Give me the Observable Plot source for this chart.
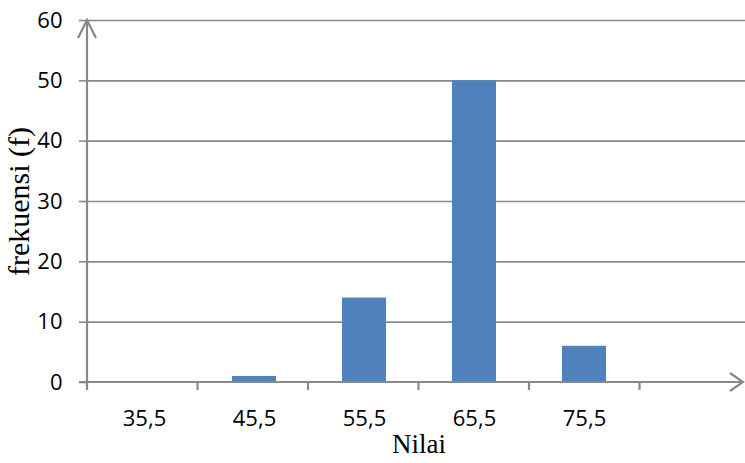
<!DOCTYPE html>
<html>
<head>
<meta charset="utf-8">
<script src="https://cdn.jsdelivr.net/npm/d3@7"></script>
<script src="https://cdn.jsdelivr.net/npm/@observablehq/plot@0.6"></script>
<style>
  html, body { margin: 0; padding: 0; background: #fff; }
</style>
</head>
<body>
<div id="chart"></div>
<script>
// Data
const categories = ["35,5", "45,5", "55,5", "65,5", "75,5", ""];
const frequencies = [0, 1, 14, 50, 6, null];
const yTicks = [0, 10, 20, 30, 40, 50, 60];
const xTitle = "Nilai";
const yTitle = "frekuensi (f)";

const data = categories.map((c, i) => ({category: c, f: frequencies[i]})).filter(d => d.f != null);

const gray = "#898989";
const barColor = "#4F81BD";

// Axis lines with arrowheads and category-boundary ticks, derived from the plot dimensions and x scale
function axesDecor(index, scales, values, dims) {
  const {width, height, marginTop, marginBottom, marginLeft, marginRight} = dims;
  const x0 = marginLeft, y0 = height - marginBottom;
  const xr = (scales.x && scales.x.range) ? scales.x.range() : [marginLeft, width - marginRight];
  const n = categories.length;
  const step = (xr[1] - xr[0]) / n;
  const g = d3.create("svg:g").attr("fill", "none").attr("stroke", gray).attr("stroke-width", 2.2);
  g.append("line").attr("x1", x0).attr("x2", x0).attr("y1", y0 + 8).attr("y2", marginTop);
  const xEnd = width - 2;
  g.append("line").attr("x1", x0 - 8).attr("x2", xEnd).attr("y1", y0).attr("y2", y0);
  for (let i = 1; i < n; i++) {
    const bx = xr[0] + i * step;
    g.append("line").attr("x1", bx).attr("x2", bx).attr("y1", y0).attr("y2", y0 + 8);
  }
  g.append("path").attr("d", `M${x0 - 9},${marginTop + 18}L${x0},${marginTop}L${x0 + 9},${marginTop + 18}`);
  g.append("path").attr("d", `M${xEnd - 13},${y0 - 9}L${xEnd},${y0}L${xEnd - 13},${y0 + 9}`);
  return g.node();
}

const serif = "'Liberation Serif', 'Times New Roman', serif";

const chart = Plot.plot({
  width: 745,
  height: 463,
  marginLeft: 87,
  marginRight: -5,
  marginTop: 20,
  marginBottom: 81,
  style: {background: "#fff", fontFamily: "'Open Sans', sans-serif"},
  x: {type: "band", domain: categories, paddingInner: 0.6, paddingOuter: 0.3, align: 0.5},
  y: {domain: [0, 60]},
  marks: [
    Plot.gridY(yTicks.filter(t => t > 0), {stroke: gray, strokeOpacity: 1, strokeWidth: 1.6}),
    Plot.axisY({ticks: yTicks, tickSize: 8, tickPadding: 17, stroke: gray, strokeWidth: 1.6, fill: "#000", fontSize: 22, label: null, tickFormat: d => String(d)}),
    Plot.axisX({tickSize: 0, tickPadding: 28, fill: "#000", fontSize: 22, label: null}),
    Plot.barY(data, {x: "category", y: "f", fill: barColor}),
    axesDecor,
    Plot.text([xTitle], {frameAnchor: "bottom", dy: 62, lineAnchor: "middle", textAnchor: "middle", fontSize: 27, fontFamily: serif, fill: "#000"}),
    Plot.text([yTitle], {frameAnchor: "left", dx: -68, rotate: -90, lineAnchor: "middle", textAnchor: "middle", fontSize: 30, fontFamily: serif, fill: "#000"})
  ]
});
document.getElementById("chart").appendChild(chart);
</script>
</body>
</html>
